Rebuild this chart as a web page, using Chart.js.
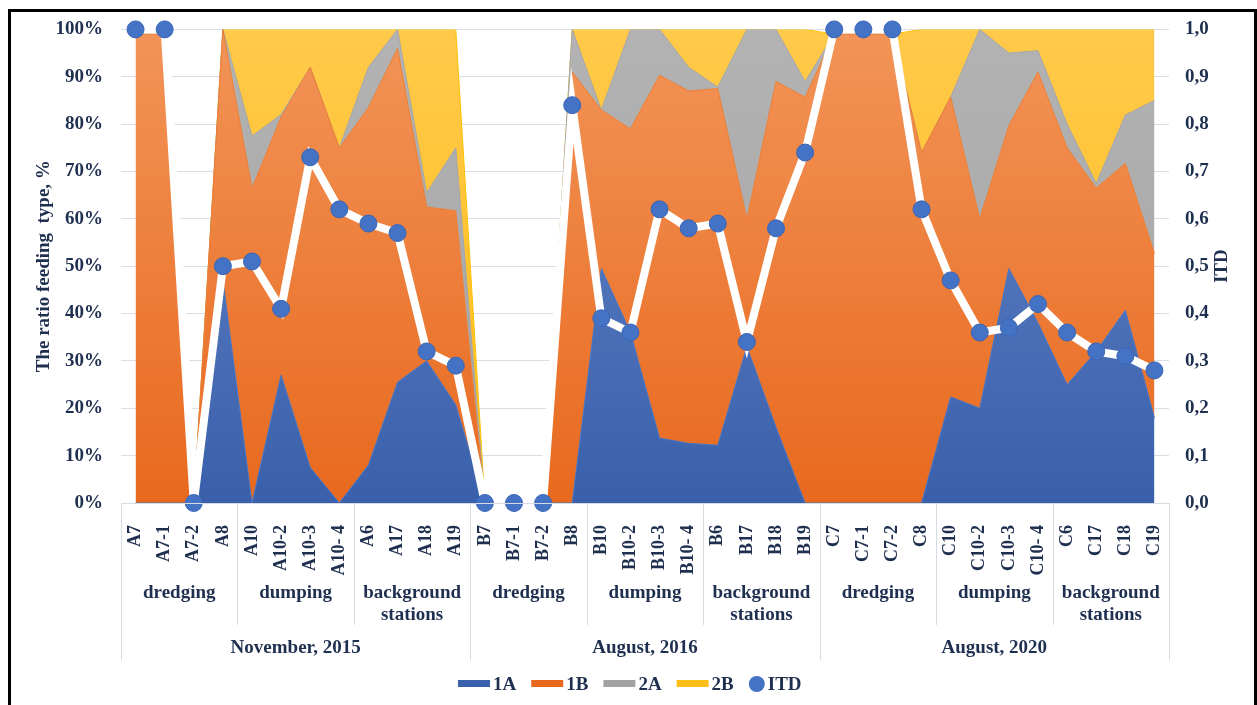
<!DOCTYPE html>
<html>
<head>
<meta charset="utf-8">
<script src="https://cdn.jsdelivr.net/npm/chart.js@4.4.1/dist/chart.umd.min.js"></script>
<style>
  html, body { margin: 0; padding: 0; background: #fff; }
  #wrap { position: relative; width: 1257px; height: 705px; }
</style>
</head>
<body>
<div id="wrap"><canvas id="chart"></canvas></div>
<script>
// stations along the x axis
const stations = ['A7', 'A7-1', 'A7-2', 'A8', 'A10', 'A10-2', 'A10-3', 'A10- 4', 'A6', 'A17', 'A18', 'A19',
  'B7', 'B7-1', 'B7-2', 'B8', 'B10', 'B10-2', 'B10-3', 'B10- 4', 'B6', 'B17', 'B18', 'B19',
  'C7', 'C7-1', 'C7-2', 'C8', 'C10', 'C10-2', 'C10-3', 'C10- 4', 'C6', 'C17', 'C18', 'C19'];
// second and third level of the category axis
const sites = ['dredging', 'dumping', 'background stations',
  'dredging', 'dumping', 'background stations',
  'dredging', 'dumping', 'background stations'];
const periods = ['November, 2015', 'August, 2016', 'August, 2020'];

// feeding type ratios, %
const type1A = [0, 0, 0, 47, 0, 27, 7.5, 0, 8, 25.5, 30, 20.7,
  0, 0, 0, 0, 49.5, 36, 13.7, 12.6, 12.2, 33, 16, 0,
  0, 0, 0, 0, 22.4, 20, 49.5, 38, 25, 32, 40.7, 18];
const type1B = [99, 99, 0, 53, 66.5, 54.5, 84.5, 75, 75.5, 70.5, 32.5, 41,
  0, 0, 0, 91, 33.5, 43, 76.6, 74.4, 75.3, 27, 73, 85.7,
  99, 99, 99, 74, 63.3, 40, 30.2, 53, 50, 34.5, 31, 34.7];
const type2A = [0, 0, 0, 0, 11, 0.5, 0, 0, 8.5, 4, 3, 13.3,
  0, 0, 0, 9, 0, 21, 9.7, 5, 0.3, 40, 11, 3.3,
  0, 0, 0, 0, 0, 40, 15.3, 4.5, 5, 1, 10.2, 32.3];
const type2B = [0, 0, 0, 0, 22.5, 18, 8, 25, 8, 0, 34.5, 25,
  0, 0, 0, 0, 17, 0, 0, 8, 12.2, 0, 0, 11,
  0, 0, 0, 26, 14.3, 0, 5, 4.5, 20, 32.5, 18.1, 15];
// trophic index
const itd = [1.0, 1.0, 0, 0.50, 0.51, 0.41, 0.73, 0.62, 0.59, 0.57, 0.32, 0.29,
  0, 0, 0, 0.84, 0.39, 0.36, 0.62, 0.58, 0.59, 0.34, 0.58, 0.74,
  1.0, 1.0, 1.0, 0.62, 0.47, 0.36, 0.37, 0.42, 0.36, 0.32, 0.31, 0.28];

const FONT = '"Liberation Serif", "Times New Roman", serif';
const TXT = '#1f2f4f';
const SEP = '#d6dce4';

function grad(ctx, top, bottom) {
  const a = ctx.chart.chartArea;
  if (!a) return bottom;
  const g = ctx.chart.ctx.createLinearGradient(0, a.top, 0, a.bottom);
  g.addColorStop(0, top);
  g.addColorStop(1, bottom);
  return g;
}

function area(label, data, top, bottom, border, fill) {
  return {
    type: 'line', label, data, fill, order: 1, stack: 'feed',
    backgroundColor: ctx => grad(ctx, top, bottom),
    borderColor: border, borderWidth: 1, pointRadius: 0, tension: 0,
    legendColor: bottom
  };
}

const decor = {
  id: 'decor',
  afterDraw(chart) {
    const { ctx, chartArea: a, scales: { x } } = chart;
    const step = x.getPixelForValue(1) - x.getPixelForValue(0);
    const edge = i => x.getPixelForValue(i) - step / 2;
    ctx.save();

    // axis line and group separators
    ctx.strokeStyle = SEP;
    ctx.lineWidth = 1;
    ctx.beginPath();
    ctx.moveTo(a.left, a.bottom + 0.5);
    ctx.lineTo(a.right, a.bottom + 0.5);
    for (let g = 0; g <= sites.length; g++) {
      const px = Math.round(edge(g * 4)) + 0.5;
      ctx.moveTo(px, a.bottom);
      ctx.lineTo(px, g % 3 === 0 ? 660 : 625);
    }
    ctx.stroke();

    ctx.fillStyle = TXT;
    ctx.font = 'bold 19px ' + FONT;
    ctx.textAlign = 'center';
    ctx.textBaseline = 'middle';
    sites.forEach((s, g) => {
      const cx = (edge(g * 4) + edge(g * 4 + 4)) / 2;
      const lines = s === 'background stations' ? ['background', 'stations'] : [s];
      lines.forEach((t, k) => ctx.fillText(t, cx, 593 + k * 22));
    });
    periods.forEach((p, g) => {
      const cx = (edge(g * 12) + edge(g * 12 + 12)) / 2;
      ctx.fillText(p, cx, 648);
    });

    // axis titles
    const mid = (a.top + a.bottom) / 2;
    ctx.save();
    ctx.translate(44, mid);
    ctx.rotate(-Math.PI / 2);
    ctx.fillText('The ratio feeding  type, %', 0, 0);
    ctx.restore();
    ctx.save();
    ctx.translate(1222, mid);
    ctx.rotate(-Math.PI / 2);
    ctx.fillText('ITD', 0, 0);
    ctx.restore();

    // legend
    let lx = 458;
    const ly = 684;
    ctx.textAlign = 'left';
    chart.data.datasets.forEach(ds => {
      if (ds.yAxisID === 'y1') {
        ctx.beginPath();
        ctx.arc(lx + 8, ly, 8, 0, Math.PI * 2);
        ctx.fillStyle = ds.pointBackgroundColor;
        ctx.fill();
        lx += 19;
      } else {
        ctx.fillStyle = ds.legendColor;
        ctx.fillRect(lx, ly - 4, 32, 7);
        lx += 35;
      }
      ctx.fillStyle = TXT;
      ctx.fillText(ds.label, lx, ly + 1);
      lx += ctx.measureText(ds.label).width + 15;
    });

    // frame
    ctx.strokeStyle = '#000';
    ctx.lineWidth = 3;
    ctx.beginPath();
    ctx.moveTo(9.5, 705);
    ctx.lineTo(9.5, 10.5);
    ctx.lineTo(1255.5, 10.5);
    ctx.lineTo(1255.5, 705);
    ctx.stroke();
    ctx.restore();
  }
};

new Chart(document.getElementById('chart'), {
  data: {
    labels: stations,
    datasets: [
      area('1A', type1A, '#6688ca', '#3a60ab', '#4472c4', 'origin'),
      area('1B', type1B, '#f29458', '#e8691e', '#ed7d31', '-1'),
      area('2A', type2A, '#b3b3b3', '#a2a2a2', '#a5a5a5', '-1'),
      area('2B', type2B, '#ffc94a', '#ffbd18', '#ffc000', '-1'),
      {
        type: 'line', label: 'ITD', data: itd, yAxisID: 'y1', order: 0,
        borderColor: '#ffffff', borderWidth: 8, tension: 0, fill: false, clip: false,
        pointRadius: 8.5, pointBackgroundColor: '#4472c4',
        pointBorderColor: '#3a66b6', pointBorderWidth: 1
      }
    ]
  },
  options: {
    responsive: true,
    maintainAspectRatio: false,
    animation: false,
    layout: { padding: { top: 29, bottom: 40, left: 0, right: 0 } },
    plugins: { legend: { display: false }, tooltip: { enabled: false } },
    scales: {
      x: {
        type: 'category', offset: true,
        grid: { display: false }, border: { display: false },
        ticks: {
          color: TXT, font: { family: FONT, size: 18, weight: 'bold' },
          minRotation: 90, maxRotation: 90, autoSkip: false, padding: 14
        },
        afterFit(s) { s.height = 162; }
      },
      y: {
        stacked: true, min: 0, max: 100,
        grid: { color: '#d9dee7', drawTicks: false }, border: { display: false },
        ticks: {
          stepSize: 10, padding: 18, color: TXT,
          font: { family: FONT, size: 19, weight: 'bold' },
          callback: v => v + '%'
        },
        afterFit(s) { s.width = 121; }
      },
      y1: {
        position: 'right', min: 0, max: 1,
        grid: { display: false, drawTicks: false }, border: { display: false },
        ticks: {
          stepSize: 0.1, padding: 16, color: TXT,
          font: { family: FONT, size: 19, weight: 'bold' },
          callback: v => v.toFixed(1).replace('.', ',')
        },
        afterFit(s) { s.width = 88; }
      }
    }
  },
  plugins: [decor]
});
</script>
</body>
</html>
